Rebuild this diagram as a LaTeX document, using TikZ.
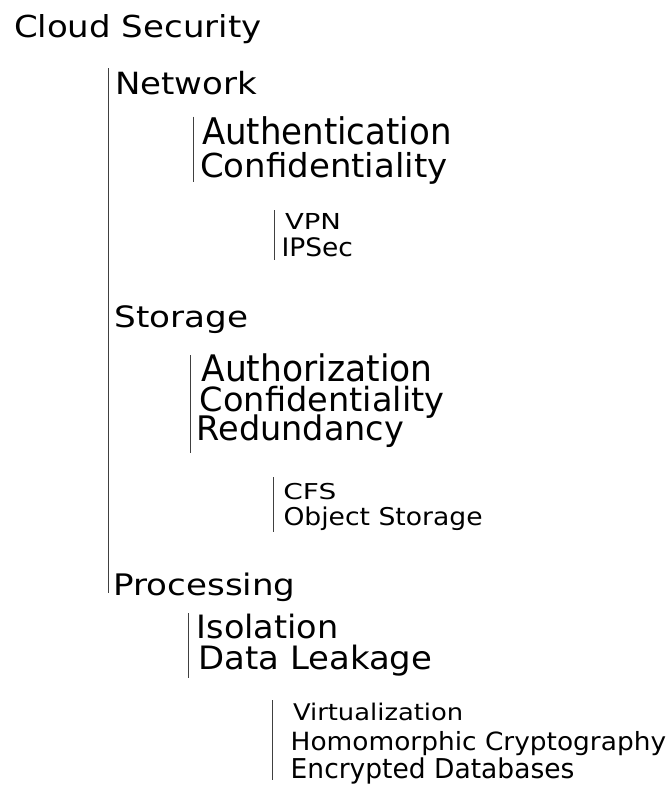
\documentclass[tikz,border=0pt]{standalone}
\usepackage{fontspec}
\usepackage{graphicx}
\setmainfont{DejaVu Sans}
% label text: font size (pt) and vertical stretch
\newcommand{\lbltext}[3]{\fontsize{#1}{#1}\selectfont\scalebox{1}[#2]{#3}}
\begin{document}
\begin{tikzpicture}[x=1pt,y=-1pt,
  lbl/.style={anchor=base west,inner sep=0pt,outer sep=0pt,text=black},
  bar/.style={draw=black!75,line width=0.9pt}]
\useasboundingbox (0,0) rectangle (671,787);

% root
\node[lbl] (root) at (14,37.3) {\lbltext{34}{0.89}{Cloud Security}};

% first level
\node[lbl] (net)  at (115,94)    {\lbltext{34}{0.90}{Network}};
\node[lbl] (sto)  at (114.5,327.3) {\lbltext{34.2}{0.86}{Storage}};
\node[lbl] (proc) at (113.4,595) {\lbltext{34.1}{0.87}{Processing}};
\coordinate (b1t) at (108,68.3);
\coordinate (b1b) at (108,593.3);
\draw[bar] (b1t) -- (b1b);

% network
\node[lbl] (nauth) at (202,144.5)  {\lbltext{34}{1.08}{Authentication}};
\node[lbl] (nconf) at (200,177.7)  {\lbltext{34}{0.97}{Confidentiality}};
\coordinate (b2nt) at (193.3,116.7);
\coordinate (b2nb) at (193.3,181.7);
\draw[bar] (b2nt) -- (b2nb);

\node[lbl] (vpn)   at (285,229.3)  {\lbltext{27.5}{0.80}{VPN}};
\node[lbl] (ipsec) at (281.5,256)  {\lbltext{26.5}{0.96}{IPSec}};
\coordinate (b3nt) at (274,210);
\coordinate (b3nb) at (274,260);
\draw[bar] (b3nt) -- (b3nb);

% storage
\node[lbl] (sauth) at (201.5,381.7) {\lbltext{34.5}{1.06}{Authorization}};
\node[lbl] (sconf) at (199.8,411.7) {\lbltext{33.6}{0.99}{Confidentiality}};
\node[lbl] (sred)  at (196.7,440)   {\lbltext{33.5}{1.01}{Redundancy}};
\coordinate (b2st) at (190,355);
\coordinate (b2sb) at (190,453);
\draw[bar] (b2st) -- (b2sb);

\node[lbl] (cfs) at (283.4,499.3) {\lbltext{28}{0.78}{CFS}};
\node[lbl] (obj) at (283.5,525)   {\lbltext{26.6}{0.92}{Object Storage}};
\coordinate (b3st) at (273.3,477.3);
\coordinate (b3sb) at (273.3,531.7);
\draw[bar] (b3st) -- (b3sb);

% processing
\node[lbl] (iso)  at (196.7,638.3) {\lbltext{33.5}{0.96}{Isolation}};
\node[lbl] (leak) at (198.4,669.5) {\lbltext{33.9}{0.95}{Data Leakage}};
\coordinate (b2pt) at (188.3,613.3);
\coordinate (b2pb) at (188.3,678.3);
\draw[bar] (b2pt) -- (b2pb);

\node[lbl] (virt) at (293,720)     {\lbltext{25.8}{0.89}{Virtualization}};
\node[lbl] (homo) at (290.7,750)   {\lbltext{26.4}{0.95}{Homomorphic Cryptography}};
\node[lbl] (encr) at (290.7,778.3) {\lbltext{26.5}{1.03}{Encrypted Databases}};
\coordinate (b3pt) at (272.7,700);
\coordinate (b3pb) at (272.7,780);
\draw[bar] (b3pt) -- (b3pb);
\end{tikzpicture}
\end{document}
